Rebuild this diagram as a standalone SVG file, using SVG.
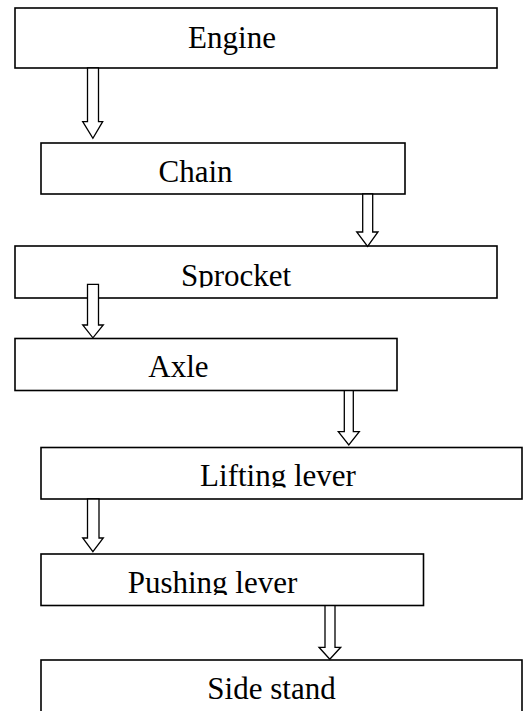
<svg xmlns="http://www.w3.org/2000/svg" width="523" height="711" viewBox="0 0 523 711">
<style>
.box{fill:#fff;stroke:#000;stroke-width:1.6}
.lbl{font-family:"Liberation Serif","Times New Roman",serif;font-size:31px;fill:#000;text-anchor:middle}
.arr{fill:#fff;stroke:#000;stroke-width:1.3;stroke-linejoin:miter}
</style>
<defs>
<clipPath id="c1"><rect x="0" y="240" width="523" height="47.5"/></clipPath>
<clipPath id="c2"><rect x="0" y="440" width="523" height="47.5"/></clipPath>
<clipPath id="c3"><rect x="0" y="550" width="523" height="45"/></clipPath>
</defs>
<rect width="523" height="711" fill="#fff"/>
<g id="engine"><rect class="box" x="15" y="8" width="482" height="60"/><text class="lbl" x="232" y="48">Engine</text></g>
<g id="chain"><rect class="box" x="41" y="143" width="364" height="51"/><text class="lbl" x="195.5" y="182">Chain</text></g>
<g id="sprocket"><rect class="box" x="15" y="246" width="482" height="52"/><text class="lbl" x="236" y="286" clip-path="url(#c1)">Sprocket</text></g>
<g id="axle"><rect class="box" x="15" y="338.5" width="382" height="52"/><text class="lbl" x="178.5" y="377">Axle</text></g>
<g id="lifting"><rect class="box" x="41" y="447.5" width="481" height="51.5"/><text class="lbl" x="278" y="486" clip-path="url(#c2)">Lifting lever</text></g>
<g id="pushing"><rect class="box" x="41" y="554" width="382.5" height="51.5"/><text class="lbl" x="212.5" y="593" clip-path="url(#c3)">Pushing lever</text></g>
<g id="sidestand"><rect class="box" x="41" y="660" width="481" height="60"/><text class="lbl" x="271.5" y="698.5">Side stand</text></g>
<g id="connectors">
<polygon class="arr" points="87.5,68 98.5,68 98.5,121.7 102.7,121.7 92.9,138.3 82.7,121.7 87.5,121.7"/>
<polygon class="arr" points="362.7,194 372.7,194 372.7,232 378,232 367.6,246.5 356.7,232 362.7,232"/>
<polygon class="arr" points="87.5,284.3 98.5,284.3 98.5,325 103.3,325 92.9,337.8 82.7,325 87.5,325"/>
<polygon class="arr" points="344.3,390.7 353.3,390.7 353.3,431.7 359.3,431.7 348.8,445 338.3,431.7 344.3,431.7"/>
<polygon class="arr" points="87.5,499 99,499 99,538 103.3,538 92.9,551.7 82.7,538 87.5,538"/>
<polygon class="arr" points="325,605.7 335,605.7 335,647.3 340.7,647.3 329.8,659.3 319,647.3 325,647.3"/>
</g>
</svg>
